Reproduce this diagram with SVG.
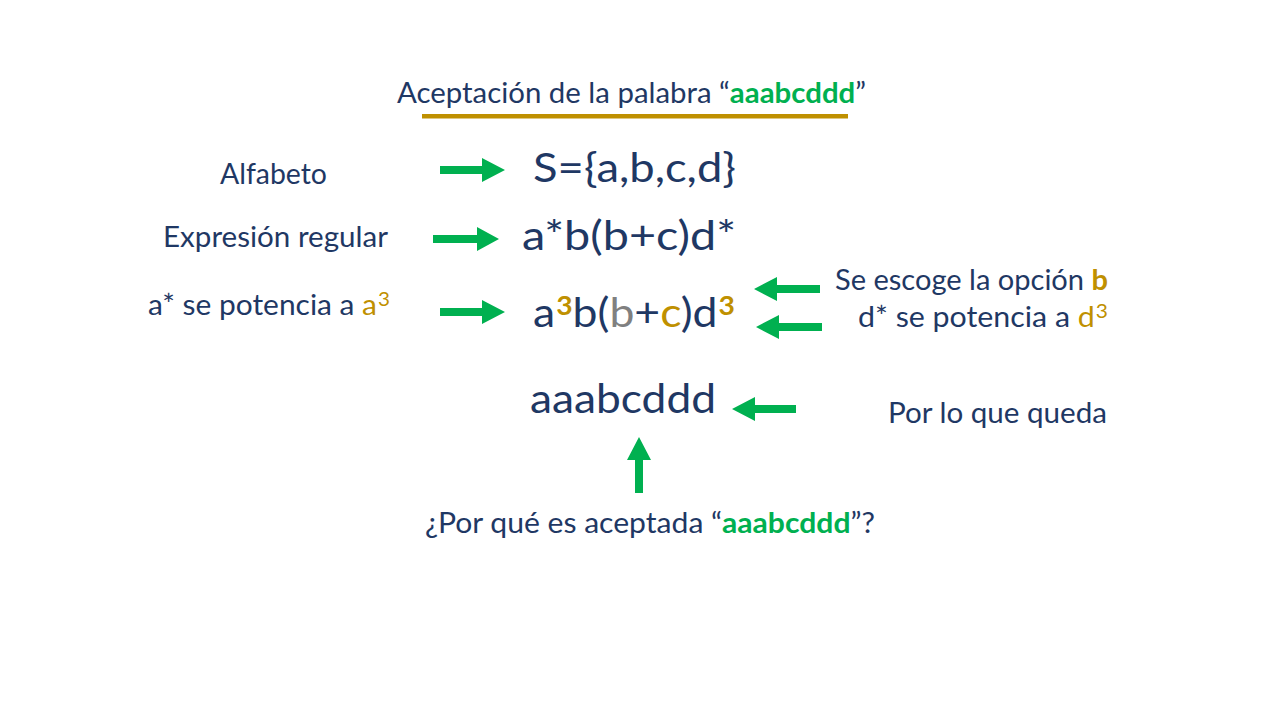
<svg xmlns="http://www.w3.org/2000/svg" width="1280" height="720" viewBox="0 0 1280 720">
<style>
text { font-family: Lato, "Open Sans", "Liberation Sans", sans-serif; fill: #1F3864; }
.lbl { font-size: 29px; }
.big { font-size: 41px; }
.grn { fill: #00B050; font-weight: bold; }
.gold { fill: #BF9000; }
.goldb { fill: #BF9000; font-weight: bold; }
.gray { fill: #808080; }
.sup { font-size: 26px; }
.supl { font-size: 20px; }
.arrow { fill: #00B050; }
</style>
<rect width="1280" height="720" fill="#FFFFFF"/>

<g id="title">
<text class="lbl" x="397" y="103" textLength="469" lengthAdjust="spacingAndGlyphs">Aceptación de la palabra “<tspan class="grn">aaabcddd</tspan>”</text>
<rect x="422" y="114" width="426" height="4.5" fill="#BF9000"/>
</g>

<g id="alfabeto-label"><text class="lbl" x="220" y="184" textLength="107" lengthAdjust="spacingAndGlyphs">Alfabeto</text></g>
<g id="expresion-label"><text class="lbl" x="163" y="247" textLength="225" lengthAdjust="spacingAndGlyphs">Expresión regular</text></g>
<g id="potencia-a-label"><text class="lbl" x="148" y="315" textLength="242" lengthAdjust="spacingAndGlyphs">a* se potencia a <tspan class="gold">a</tspan><tspan class="gold supl" dx="1" dy="-9">3</tspan></text></g>

<g id="alfabeto"><text class="big" x="533" y="182" textLength="203" lengthAdjust="spacingAndGlyphs">S={a,b,c,d}</text></g>
<g id="expresion"><text class="big" x="522" y="250" textLength="214" lengthAdjust="spacingAndGlyphs">a*b(b+c)d*</text></g>
<g id="potencia"><text class="big" x="533" y="327" textLength="202" lengthAdjust="spacingAndGlyphs">a<tspan class="goldb sup" dx="1" dy="-12">3</tspan><tspan dy="12">b(</tspan><tspan class="gray">b</tspan>+<tspan class="gold">c</tspan>)d<tspan class="goldb sup" dx="1" dy="-12">3</tspan></text></g>

<g id="opcion-label"><text class="lbl" x="835" y="290" textLength="273" lengthAdjust="spacingAndGlyphs">Se escoge la opción <tspan class="goldb">b</tspan></text></g>
<g id="potencia-d-label"><text class="lbl" x="858" y="327" textLength="250" lengthAdjust="spacingAndGlyphs">d* se potencia a <tspan class="gold">d</tspan><tspan class="gold supl" dx="1" dy="-9">3</tspan></text></g>

<g id="palabra"><text class="big" x="530" y="413" textLength="186" lengthAdjust="spacingAndGlyphs">aaabcddd</text></g>
<g id="queda-label"><text class="lbl" x="888" y="423" textLength="219" lengthAdjust="spacingAndGlyphs">Por lo que queda</text></g>

<g id="pregunta"><text class="lbl" x="425" y="533" textLength="450" lengthAdjust="spacingAndGlyphs">¿Por qué es aceptada “<tspan class="grn">aaabcddd</tspan>”?</text></g>

<g id="connectors">
<polygon class="arrow" points="440,166 482,166 482,158 505,170 482,182 482,174 440,174"/>
<polygon class="arrow" points="433,235 477,235 477,227 499,239 477,251 477,243 433,243"/>
<polygon class="arrow" points="440,308 482,308 482,300 505,312 482,324 482,316 440,316"/>
<polygon class="arrow" points="820,285 777,285 777,277 754,289 777,301 777,293 820,293"/>
<polygon class="arrow" points="822,323 779,323 779,315 756,327 779,339 779,331 822,331"/>
<polygon class="arrow" points="796,405 755,405 755,397 732,409 755,421 755,413 796,413"/>
<polygon class="arrow" points="635,493 635,460 627,460 639,437 651,460 643,460 643,493"/>
</g>
</svg>
